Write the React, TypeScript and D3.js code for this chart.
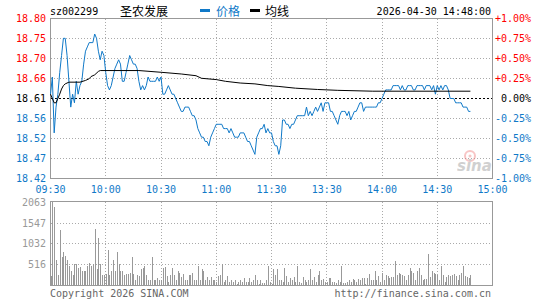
import React from "react";
import * as d3 from "d3";

const W = 545;
const H = 300;

const prevClose = 18.61;
const priceLabels = ["18.80", "18.75", "18.70", "18.66", "18.61", "18.56", "18.52", "18.47", "18.42"];
const pctLabels = ["+1.00%", "+0.75%", "+0.50%", "+0.25%", "0.00%", "-0.25%", "-0.50%", "-0.75%", "-1.00%"];
const timeLabels = ["09:30", "10:00", "10:30", "11:00", "11:30", "13:30", "14:00", "14:30", "15:00"];
const volLabels = [2063, 1547, 1032, 516];
const volMax = 2063;

// minute prices, 09:30 .. 14:48 (11:30 and 13:00 share one slot)
const prices = [
  18.62, 18.66, 18.53, 18.59, 18.62, 18.67, 18.71, 18.75, 18.75, 18.71,
  18.65, 18.59, 18.62, 18.60, 18.65, 18.62, 18.64, 18.65, 18.69, 18.72,
  18.73, 18.74, 18.74, 18.74, 18.76, 18.75, 18.72, 18.70, 18.72, 18.71,
  18.67, 18.64, 18.63, 18.64, 18.66, 18.68, 18.69, 18.70, 18.69, 18.65,
  18.65, 18.67, 18.69, 18.71, 18.70, 18.69, 18.69, 18.68, 18.65, 18.63,
  18.64, 18.63, 18.64, 18.66, 18.65, 18.65, 18.65, 18.65, 18.66, 18.65,
  18.66, 18.62, 18.62, 18.63, 18.64, 18.63, 18.62, 18.62, 18.61, 18.60,
  18.59, 18.58, 18.58, 18.59, 18.59, 18.59, 18.58, 18.57, 18.57, 18.56,
  18.54, 18.53, 18.52, 18.52, 18.51, 18.51, 18.50, 18.52, 18.53, 18.54,
  18.55, 18.55, 18.55, 18.55, 18.54, 18.54, 18.54, 18.53, 18.54, 18.53,
  18.52, 18.52, 18.52, 18.53, 18.53, 18.53, 18.52, 18.51, 18.51, 18.50,
  18.49, 18.48, 18.52, 18.53, 18.54, 18.54, 18.55, 18.53, 18.54, 18.53,
  18.53, 18.51, 18.50, 18.50, 18.48, 18.50, 18.56, 18.56, 18.55, 18.55,
  18.54, 18.55, 18.55, 18.56, 18.57, 18.57, 18.57, 18.57, 18.57, 18.59,
  18.57, 18.58, 18.57, 18.58, 18.59, 18.58, 18.59, 18.60, 18.58, 18.60,
  18.60, 18.60, 18.58, 18.58, 18.57, 18.56, 18.55, 18.57, 18.58, 18.58,
  18.58, 18.57, 18.58, 18.56, 18.57, 18.58, 18.58, 18.59, 18.60, 18.60,
  18.58, 18.59, 18.59, 18.59, 18.59, 18.59, 18.59, 18.59, 18.60, 18.60,
  18.61, 18.62, 18.63, 18.63, 18.63, 18.63, 18.64, 18.64, 18.64, 18.64,
  18.63, 18.64, 18.63, 18.63, 18.64, 18.64, 18.64, 18.63, 18.63, 18.64,
  18.64, 18.64, 18.64, 18.63, 18.64, 18.64, 18.64, 18.63, 18.64, 18.62,
  18.64, 18.63, 18.64, 18.63, 18.64, 18.64, 18.63, 18.61, 18.61, 18.61,
  18.60, 18.60, 18.60, 18.60, 18.59, 18.59, 18.59, 18.58, 18.58,
];

const volumes = [
  229, 2063, 1925, 614, 270, 1351, 696, 819, 720, 614,
  467, 344, 270, 516, 532, 434, 450, 344, 368, 368,
  467, 557, 491, 516, 1376, 393, 1163, 516, 262, 262,
  287, 860, 262, 344, 614, 344, 835, 532, 368, 344,
  262, 287, 287, 311, 712, 287, 123, 246, 229, 393,
  426, 475, 246, 147, 123, 696, 123, 123, 180, 147,
  147, 426, 450, 229, 82, 246, 426, 262, 123, 344,
  311, 205, 287, 123, 123, 262, 246, 311, 147, 123,
  491, 123, 393, 368, 123, 205, 123, 205, 147, 123,
  82, 229, 262, 516, 82, 123, 229, 82, 123, 82,
  123, 41, 82, 147, 82, 180, 98, 82, 180, 82,
  123, 262, 147, 41, 123, 66, 66, 123, 467, 82,
  41, 393, 262, 393, 139, 123, 98, 426, 229, 98,
  180, 123, 205, 82, 491, 98, 66, 205, 123, 82,
  123, 393, 123, 205, 82, 262, 344, 139, 164, 82,
  98, 180, 180, 82, 82, 66, 123, 82, 491, 66,
  66, 98, 123, 82, 164, 147, 82, 164, 147, 180,
  180, 41, 180, 287, 123, 123, 344, 123, 229, 82,
  311, 123, 246, 229, 180, 205, 205, 590, 262, 303,
  287, 262, 229, 123, 262, 426, 368, 311, 123, 344,
  426, 262, 123, 164, 164, 778, 205, 368, 311, 287,
  262, 123, 467, 262, 98, 205, 246, 229, 262, 287,
  229, 123, 246, 311, 491, 229, 205, 180, 262,
];

// average price line, read at its turning points
const avgIdx = [0, 1, 2, 3, 4, 5, 6, 7, 8, 10, 16, 19, 21, 22, 24, 26, 27, 48, 60, 71, 79, 82, 90, 95, 103, 111, 118, 124, 133, 145, 156, 175, 228];
const avgVal = [18.62, 18.61, 18.6, 18.6, 18.61, 18.62, 18.632, 18.64, 18.644, 18.648, 18.648, 18.652, 18.656, 18.661, 18.665, 18.673, 18.675, 18.675, 18.671, 18.667, 18.663, 18.657, 18.654, 18.65, 18.646, 18.644, 18.64, 18.638, 18.634, 18.631, 18.629, 18.627, 18.627];

const BLUE = "#1079c8";
const RED = "#ff0000";
const GRID = "#aaaaaa";
const MONO = "'DejaVu Sans Mono', 'Liberation Mono', monospace";
const CJK = "'Noto Sans CJK SC', sans-serif";

export default function App() {
  const left = 50.5;
  const right = 492.5;
  const pTop = 18.5;
  const pBot = 178.5;
  const vTop = 201.5;
  const vBot = 285.5;

  const x = d3.scaleLinear().domain([0, 240]).range([left, right]);
  const y = d3.scaleLinear().domain([prevClose * 0.99, prevClose * 1.01]).range([pBot, pTop]);
  const yv = d3.scaleLinear().domain([0, volMax]).range([vBot, vTop]);

  const priceLine = d3.line<number>().x((_, i) => x(i)).y((d) => y(d)).curve(d3.curveLinear);
  const avgLine = d3
    .line<number>()
    .x((_, i) => x(avgIdx[i]))
    .y((d) => y(d));

  const gridYs = priceLabels.map((_, k) => y(prevClose * (1 + (4 - k) * 0.0025)));
  const gridXs = timeLabels.map((_, k) => x(k * 30));
  const labelColor = (k: number) => (k < 4 ? RED : k === 4 ? "#000" : BLUE);

  return (
    <svg
      width={W}
      height={H}
      style={{ position: "fixed", left: 0, top: 0, background: "#fff" }}
      fontFamily={MONO}
      fontSize={10}
    >
      <rect width={W} height={H} fill="#fff" />

      {/* header */}
      <text x={50} y={15} fill="#000" fontSize={10}>sz002299</text>
      <text x={120} y={16} fill="#000" fontSize={12} fontFamily={CJK}>圣农发展</text>
      <rect x={200} y={9} width={10} height={3} fill={BLUE} />
      <text x={216} y={16} fill={BLUE} fontSize={12} fontFamily={CJK}>价格</text>
      <rect x={250} y={9} width={10} height={3} fill="#000" />
      <text x={265} y={16} fill="#000" fontSize={12} fontFamily={CJK}>均线</text>
      <text x={491} y={15} fill="#000" textAnchor="end">2026-04-30 14:48:00</text>

      {/* price grid */}
      <g shapeRendering="crispEdges">
        {gridYs.slice(1, 8).map((gy, k) =>
          k + 1 === 4 ? null : (
            <line key={"h" + k} x1={left} x2={right} y1={gy} y2={gy} stroke={GRID} strokeDasharray="1,2" />
          )
        )}
        {gridXs.slice(1, 8).map((gx, k) => (
          <line key={"v" + k} x1={gx} x2={gx} y1={pTop} y2={pBot} stroke={GRID} strokeDasharray="1,2" />
        ))}
        <line x1={left} x2={right} y1={y(prevClose)} y2={y(prevClose)} stroke="#000" strokeDasharray="2,2" />
        <rect x={left} y={pTop} width={right - left} height={pBot - pTop} fill="none" stroke="#999" />
      </g>

      {/* watermark */}
      <g opacity={0.45}>
        <circle cx={470} cy={156} r={5} fill="none" stroke="#f08080" strokeWidth={2} />
        <circle cx={470} cy={156} r={1.5} fill="#f08080" />
        <text x={457} y={171} fill="#999" fontSize={15} fontStyle="italic" fontWeight="bold" fontFamily="'DejaVu Sans', sans-serif">sina</text>
      </g>

      {/* price and average lines */}
      <path d={priceLine(prices) || ""} fill="none" stroke={BLUE} strokeWidth={1} />
      <path d={avgLine(avgVal) || ""} fill="none" stroke="#000" strokeWidth={1} />

      {/* price axis labels */}
      {priceLabels.map((t, k) => (
        <text key={"pl" + k} x={46} y={gridYs[k] + 3.5} textAnchor="end" fill={labelColor(k)}>{t}</text>
      ))}
      {pctLabels.map((t, k) => (
        <text key={"pc" + k} x={k === 4 ? 501 : 495} y={gridYs[k] + 3.5} fill={labelColor(k)}>{t}</text>
      ))}

      {/* time labels */}
      {timeLabels.map((t, k) => (
        <text key={"t" + k} x={gridXs[k]} y={193} textAnchor="middle" fill={BLUE}>{t}</text>
      ))}

      {/* volume grid */}
      <g shapeRendering="crispEdges">
        {volLabels.slice(1).map((v) => (
          <line key={"vh" + v} x1={left} x2={right} y1={Math.round(yv(v)) + 0.5} y2={Math.round(yv(v)) + 0.5} stroke={GRID} strokeDasharray="1,2" />
        ))}
        {gridXs.slice(1, 8).map((gx, k) => (
          <line key={"vv" + k} x1={gx} x2={gx} y1={vTop} y2={vBot} stroke={GRID} strokeDasharray="1,2" />
        ))}
        {volumes.map((v, i) => (
          <rect key={"b" + i} x={Math.round(x(i))} y={yv(v)} width={1} height={vBot - yv(v)} fill="#999" />
        ))}
        <rect x={left} y={vTop} width={right - left} height={vBot - vTop} fill="none" stroke="#999" />
      </g>

      {volLabels.map((v) => (
        <text key={"vl" + v} x={46} y={Math.round(yv(v)) + 4} textAnchor="end" fill="#999">{v}</text>
      ))}

      {/* footer */}
      <text x={50} y={297} fill="#666">Copyright 2026 SINA.COM</text>
      <text x={491} y={297} fill="#666" textAnchor="end">http://finance.sina.com.cn</text>
    </svg>
  );
}
